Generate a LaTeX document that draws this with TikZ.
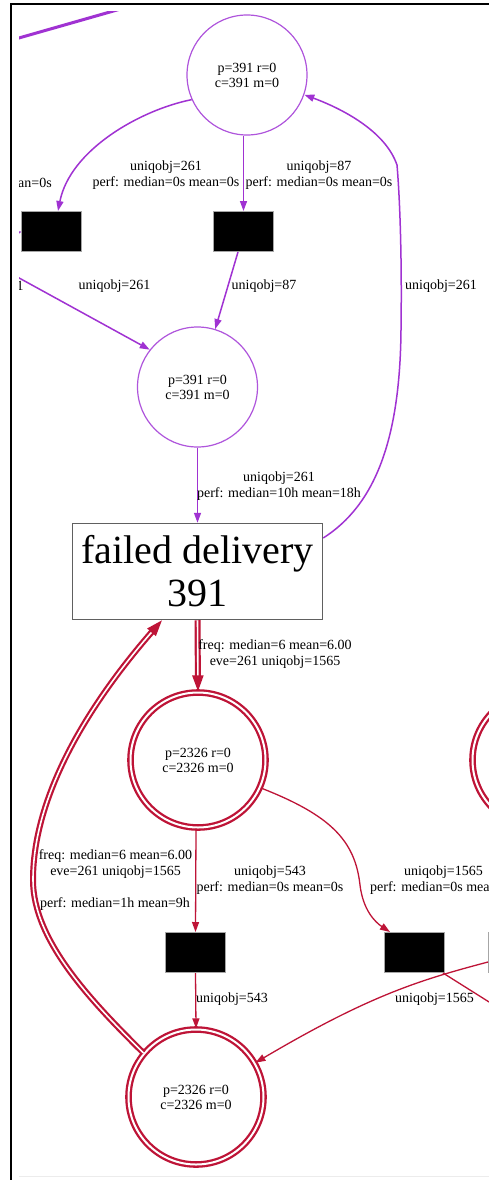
\documentclass[tikz,border=0pt]{standalone}
\usepackage{fontspec}
\setmainfont{Liberation Serif}
\usetikzlibrary{arrows.meta}
\definecolor{pur}{RGB}{160,50,210}
\definecolor{purl}{RGB}{175,85,220}
\definecolor{crim}{RGB}{190,20,55}
\begin{document}
\begin{tikzpicture}[x=1pt,y=-1pt,
  lbl/.style={font=\fontsize{14}{16}\selectfont, align=center, inner sep=0pt},
  pcirc/.style={circle, draw=purl, line width=1.2pt, minimum size=120pt, inner sep=0pt, align=center, font=\fontsize{14}{15}\selectfont},
  rcirc/.style={circle, draw=crim, line width=2.3pt, double=white, double distance=2pt, minimum size=135pt, inner sep=0pt, align=center, font=\fontsize{14}{15}\selectfont},
  blk/.style={rectangle, fill=black, draw=gray!70, line width=1pt, minimum width=60pt, minimum height=40pt, inner sep=0pt},
  actbox/.style={rectangle, draw=gray!75!black, line width=1.5pt, minimum width=250pt, minimum height=96pt, inner sep=0pt, align=center, font=\fontsize{40}{43}\selectfont},
  pe/.style={draw=pur, line width=1.5pt, -{Triangle[length=10pt,width=7pt]}},
  pline/.style={draw=pur, line width=1.5pt},
  re/.style={draw=crim, line width=1.3pt, -{Triangle[length=10pt,width=7pt]}},
  rline/.style={draw=crim, line width=1.3pt},
  dbl/.style={draw=crim, line width=2.2pt, double=white, double distance=1.6pt, -{Triangle[length=16pt,width=11pt]}}
]
\useasboundingbox (0,0) rectangle (489,1180);
\fill[white] (0,0) rectangle (489,1180);
\draw[black, line width=1.5pt] (11,1180) -- (11,4) -- (489,4);
\draw[gray!15, line width=1pt] (19,1176) -- (489,1176);
\begin{scope}
\clip (19,12) rectangle (489,1175);
% nodes
\node[pcirc] (c1) at (247,75) {p=391 r=0\\c=391 m=0};
\node[blk] (b1) at (51,231.5) {};
\node[blk] (b2) at (243.5,231.5) {};
\node[pcirc] (c2) at (197.5,387) {p=391 r=0\\c=391 m=0};
\node[actbox] (F) at (197.5,571.5) {failed delivery\\391};
\node[rcirc] (c3) at (198,760) {p=2326 r=0\\c=2326 m=0};
\node[rcirc] (c5) at (540,760) {};
\node[blk] (b4) at (195.5,952.5) {};
\node[blk] (b3) at (414.5,952.5) {};
\node[blk] (b5) at (518.5,952.5) {};
\node[rcirc] (c4) at (196,1097) {p=2326 r=0\\c=2326 m=0};
\coordinate (tl1) at (0,43.4);
\coordinate (tl2) at (125,7.7);
\coordinate (lin1) at (-10,262);
\coordinate (lin2) at (10,240);
\coordinate (rout) at (505,1012);
% purple edges
\draw[pur, line width=3pt] (tl1) -- (tl2);
\draw[pline] (b1.west) -- (lin2);
\draw[pe] (c1.204) .. controls (140,110) and (70,150) .. ([xshift=7pt]b1.north);
\draw[pe] (c1.south -| b2.north) -- (b2.north);
\draw[pe] ([xshift=-5.5pt]b2.south) -- (c2.73);
\draw[pe] (lin1) -- (c2.142);
\draw[pe] ([yshift=33.5pt]F.east) .. controls (375,505) and (400,440) .. (401,330)
   .. controls (402,260) and (400,200) .. (397,165)
   .. controls (385,130) and (340,108) .. (c1.341);
\draw[pe] (c2.south) -- (F.north);
% red edges
\draw[dbl] (F.south) -- (c3.north);
\draw[dbl] (c4.140) .. controls (90,1000) and (33,940) .. (33,880)
   .. controls (33,780) and (110,680) .. ([xshift=-35.5pt]F.south);
\draw[re] ([xshift=-2pt]c3.south) -- (b4.north);
\draw[re] (c3.336) .. controls (330,815) and (355,840) .. (360,885)
   .. controls (363,910) and (375,922) .. ([xshift=-24.5pt]b3.north);
\draw[re] (b4.south) -- (c4.north);
\draw[re] ([yshift=-9.5pt]b5.west) .. controls (420,980) and (370,995) .. (c4.30);
\draw[rline] ([xshift=-2pt]b3.south east) -- (rout);
% labels
\node[lbl] (l1) at (166,175) {uniqobj=261\\perf: median=0s mean=0s};
\node[lbl, anchor=west] (l2) at (18,183) {an=0s};
\node[lbl] (l3) at (319,175) {uniqobj=87\\perf: median=0s mean=0s};
\node[lbl] (l4) at (20,286) {1};
\node[lbl] (l5) at (114.5,286) {uniqobj=261};
\node[lbl] (l6) at (264,286) {uniqobj=87};
\node[lbl] (l7) at (441,286) {uniqobj=261};
\node[lbl] (l8) at (279,486.5) {uniqobj=261\\perf: median=10h mean=18h};
\node[lbl] (l9) at (275,654.5) {freq: median=6 mean=6.00\\eve=261 uniqobj=1565};
\node[lbl] (l10) at (115.5,864) {freq: median=6 mean=6.00\\eve=261 uniqobj=1565};
\node[lbl] (l11) at (115,904) {perf: median=1h mean=9h};
\node[lbl] (l12) at (270,880) {uniqobj=543\\perf: median=0s mean=0s};
\node[lbl] (l13) at (443.5,872) {uniqobj=1565};
\node[lbl, anchor=west] (l14) at (370,888) {perf: median=0s mea};
\node[lbl] (l15) at (232,999) {uniqobj=543};
\node[lbl] (l16) at (434.5,999) {uniqobj=1565};
\end{scope}
\end{tikzpicture}
\end{document}
